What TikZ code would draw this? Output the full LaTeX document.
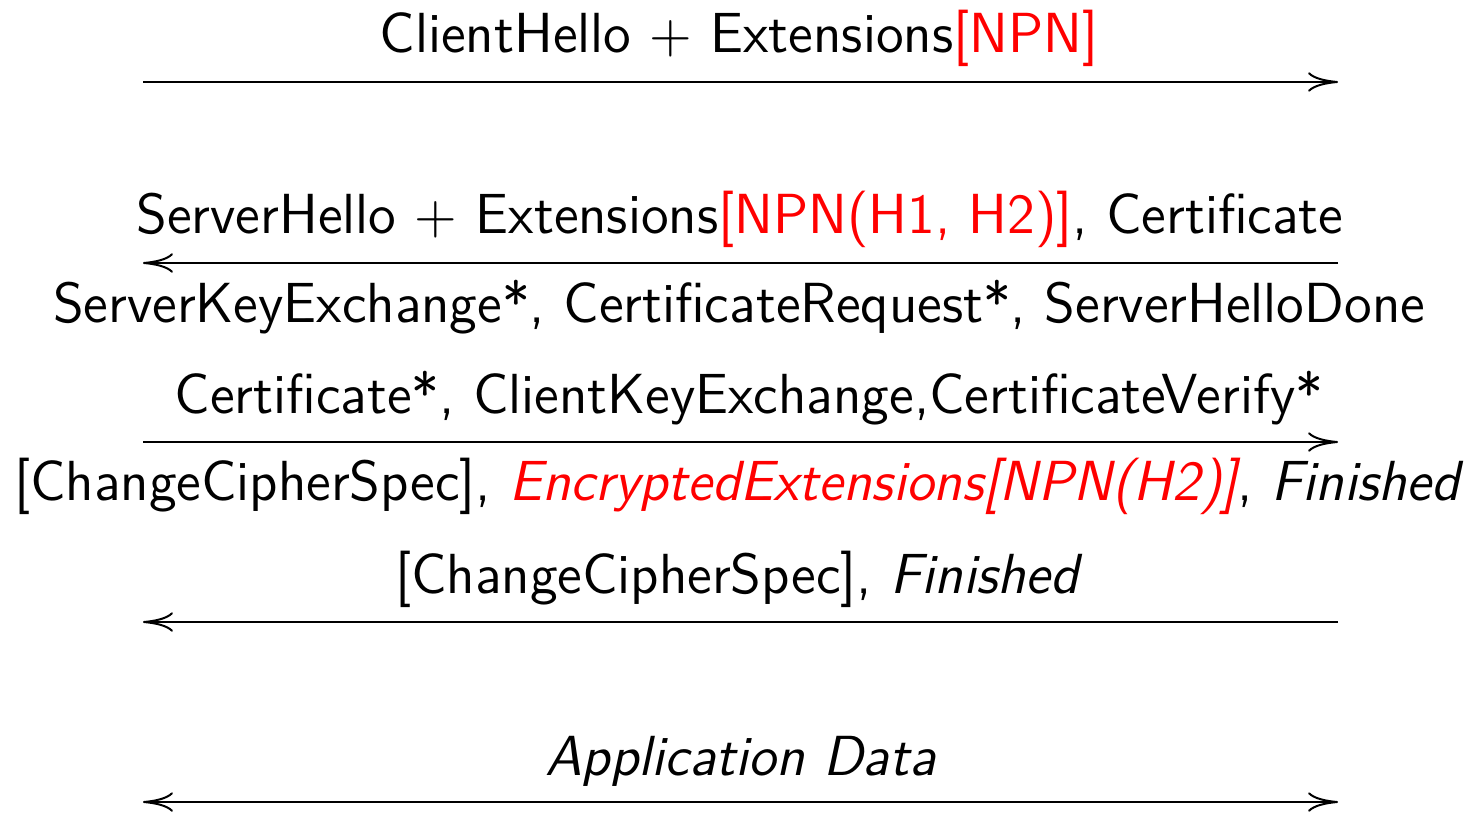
\documentclass[tikz,border=0pt]{standalone}
\usepackage{xcolor}
\usetikzlibrary{arrows.meta}
\begin{document}
\begin{tikzpicture}[x=0.2pt,y=-0.2pt,
  msg/.style={anchor=base,inner sep=0pt,font=\fontsize{11.3}{13.5}\selectfont\sffamily},
  flow/.style={line width=0.4pt},
  >={Computer Modern Rightarrow[length=6pt,width=3.9pt]}]
\useasboundingbox (0,0) rectangle (1473,812);

% endpoints of the message lines
\coordinate (c1) at (143,82);  \coordinate (s1) at (1338,82);
\coordinate (c2) at (143,263); \coordinate (s2) at (1338,263);
\coordinate (c3) at (143,442); \coordinate (s3) at (1338,442);
\coordinate (c4) at (143,622); \coordinate (s4) at (1338,622);
\coordinate (c5) at (143,802); \coordinate (s5) at (1338,802);

\draw[flow,->] (c1) -- (s1);
\draw[flow,->] (s2) -- (c2);
\draw[flow,->] (c3) -- (s3);
\draw[flow,->] (s4) -- (c4);
\draw[flow,<->] (c5) -- (s5);

\node[msg] (m1) at (739,53) {ClientHello $+$ Extensions\textcolor{red}{[NPN]}};
\node[msg] (m2) at (740,233) {ServerHello $+$ Extensions\textcolor{red}{[NPN(H1, H2)]}, Certificate};
\node[msg] (m3) at (739,322) {ServerKeyExchange*, CertificateRequest*, ServerHelloDone};
\node[msg] (m4) at (749,413) {Certificate*, ClientKeyExchange,CertificateVerify*};
\node[msg] (m5) at (739,500) {[ChangeCipherSpec], \textcolor{red}{\itshape EncryptedExtensions[NPN(H2)]}, \textit{Finished}};
\node[msg] (m6) at (739,593) {[ChangeCipherSpec], \textit{Finished}};
\node[msg] (m7) at (741,775) {\textit{Application Data}};
\end{tikzpicture}
\end{document}
